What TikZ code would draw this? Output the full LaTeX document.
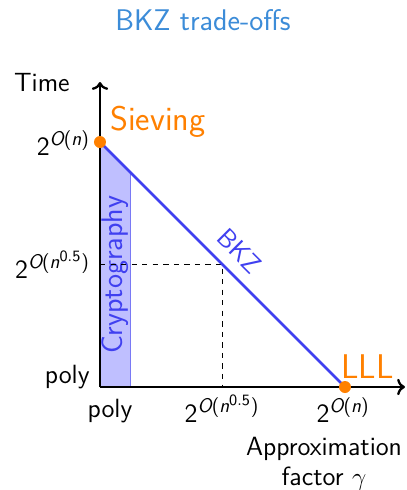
\documentclass[tikz,border=0pt]{standalone}
\usetikzlibrary{arrows.meta, calc}
\renewcommand{\familydefault}{\sfdefault}
\DeclareSymbolFont{operators}{TU}{lmss}{m}{n}
\DeclareSymbolFont{sfslant}{TU}{lmss}{m}{sl}
\DeclareMathSymbol{O}{\mathalpha}{sfslant}{`O}
\DeclareMathSymbol{n}{\mathalpha}{sfslant}{`n}
\DeclareMathSizes{15}{15}{11.2}{9}
\definecolor{bkzBlue}{HTML}{4040F0}
\definecolor{titleBlue}{HTML}{3C8CD8}
\definecolor{dotOrange}{HTML}{FF8000}

\begin{document}
\begin{tikzpicture}[
    txt/.style={font=\fontsize{15}{17}\selectfont, inner sep=0pt},
    big/.style={font=\fontsize{19.5}{22}\selectfont, text=dotOrange, inner sep=0pt},
    axis/.style={->, line width=1.3pt},
    guide/.style={dashed, line width=0.5pt},
    pt/.style={circle, fill=dotOrange, inner sep=0pt, minimum size=0.24cm},
  ]
  \useasboundingbox (-2.0,-2.06) rectangle (6.14,7.74);
  % ─── Title ───
  \node[txt, font=\fontsize{17}{20}\selectfont, text=titleBlue, anchor=base] (title) at (2.06,7.14) {BKZ trade-offs};

  % Cryptography band
  \fill[blue!25] (0,0) -- (0,4.9) -- (0.6,4.3) -- (0.6,0) -- cycle;
  \draw[bkzBlue!70, line width=0.5pt] (0.6,0) -- (0.6,4.3);
  \node[txt, font=\fontsize{17}{20}\selectfont, text=bkzBlue, rotate=90] (crypto) at (0.3,2.24) {Cryptography};

  % Dashed guides
  \coordinate (mid) at (2.45,2.45);
  \coordinate (ymidc) at (0,2.45);
  \coordinate (xmidc) at (2.45,0);
  \draw[guide] (ymidc) -- (mid) -- (xmidc);

  % ─── Axes ───
  \coordinate (o) at (0,0);
  \coordinate (ytip) at (0,6.1);
  \coordinate (xtip) at (6.1,0);
  \draw[axis] (o) -- (ytip);
  \draw[axis] (o) -- (xtip);

  % BKZ line
  \coordinate (s) at (0,4.9);
  \coordinate (l) at (4.9,0);
  \draw[bkzBlue, line width=1.5pt] (s) -- node[txt, text=bkzBlue, sloped, above=0.22cm, pos=0.507] (bkz) {BKZ} (l);
  \node[pt] (sieve) at (s) {};
  \node[pt] (lll) at (l) {};

  % Labels
  \node[txt, anchor=base east] (tlab) at (-0.6,5.92) {Time};
  \node[big, anchor=base west] (sievlab) at (0.2,5.14) {Sieving};
  \node[txt, anchor=base east] (yhi) at (-0.2,4.64) {$2^{O(n)}$};
  \node[txt, anchor=base east] (ymid) at (-0.2,2.18) {$2^{O(n^{0.5})}$};
  \node[txt, anchor=base east] (ylo) at (-0.2,0.08) {poly};
  \node[txt, anchor=base] (xlo) at (0.2,-0.6) {poly};
  \node[txt, anchor=base] (xmid) at (2.44,-0.7) {$2^{O(n^{0.5})}$};
  \node[txt, anchor=base] (xhi) at (4.86,-0.7) {$2^{O(n)}$};
  \node[big, anchor=base west] (lllab) at (4.82,0.18) {LLL};
  \node[txt, align=center, anchor=base] (xlab) at (4.48,-1.96) {Approximation\\factor $\gamma$};
\end{tikzpicture}
\end{document}
